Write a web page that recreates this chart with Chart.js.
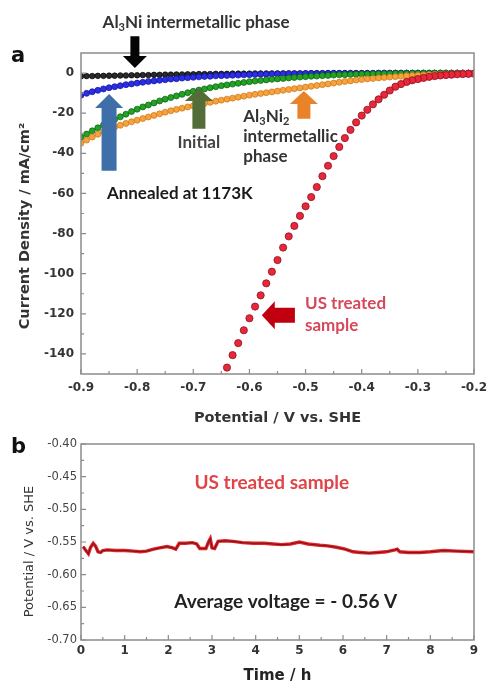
<!DOCTYPE html>
<html><head><meta charset="utf-8">
<script src="https://cdn.jsdelivr.net/npm/chart.js@4.4.0/dist/chart.umd.min.js"></script>
<style>
html,body{margin:0;padding:0;background:#fff;width:488px;height:685px;overflow:hidden;}
#wa{position:absolute;left:0;top:0;width:488px;height:430px;}
#wb{position:absolute;left:0;top:430px;width:488px;height:255px;}
</style></head><body>
<div id="wa"><canvas id="ca" width="488" height="430"></canvas></div>
<div id="wb"><canvas id="cb" width="488" height="255"></canvas></div>
<script>
// ---------- Panel a data ----------
const potentialSweep = [-0.90,-0.89,-0.88,-0.87,-0.86,-0.85,-0.84,-0.83,-0.82,-0.81,-0.80,-0.79,-0.78,-0.77,-0.76,-0.75,-0.74,-0.73,-0.72,-0.71,-0.70,
  -0.69,-0.68,-0.67,-0.66,-0.65,-0.64,-0.63,-0.62,-0.61,-0.60,-0.59,-0.58,-0.57,-0.56,-0.55,-0.54,-0.53,-0.52,-0.51,-0.50,
  -0.49,-0.48,-0.47,-0.46,-0.45,-0.44,-0.43,-0.42,-0.41,-0.40,-0.39,-0.38,-0.37,-0.36,-0.35,-0.34,-0.33,-0.32,-0.31,-0.30,
  -0.29,-0.28,-0.27,-0.26,-0.25,-0.24,-0.23,-0.22,-0.21,-0.20];
const currentAl3Ni = [-1.6,-1.5,-1.5,-1.4,-1.4,-1.3,-1.3,-1.2,-1.2,-1.1,-1.1,-1.0,-1.0,-0.9,-0.9,-0.8,-0.8,-0.7,-0.7,-0.6,-0.6,
  -0.5,-0.5,-0.5,-0.4,-0.4,-0.4,-0.3,-0.3,-0.3,-0.3,-0.2,-0.2,-0.2,-0.2,-0.2,-0.2,-0.2,-0.2,-0.2,-0.2,
  -0.1,-0.1,-0.1,-0.1,-0.1,-0.1,-0.1,-0.1,-0.1,-0.1,-0.1,-0.1,-0.1,-0.1,-0.1,0,0,0,0,0,
  0,0,0,0,0,0,0,0,0,0];
const currentAnnealed = [-11.0,-10.1,-9.3,-8.6,-7.9,-7.3,-6.8,-6.3,-5.8,-5.4,-5.0,-4.6,-4.2,-3.9,-3.6,-3.3,-3.0,-2.8,-2.5,-2.3,-2.1,
  -1.9,-1.7,-1.6,-1.4,-1.3,-1.2,-1.1,-1.0,-0.9,-0.8,-0.7,-0.6,-0.6,-0.5,-0.4,-0.4,-0.3,-0.3,-0.3,-0.2,
  -0.2,-0.2,-0.2,-0.1,-0.1,-0.1,-0.1,-0.1,-0.1,-0.1,-0.1,-0.1,0,0,0,0,0,0,0,0,
  0,0,0,0,0,0,0,0,0,0];
const currentInitial = [-32.0,-30.4,-28.8,-27.3,-25.9,-24.5,-23.1,-21.8,-20.5,-19.2,-18.0,-16.9,-15.9,-14.9,-13.9,-13.0,-12.2,-11.4,-10.6,-9.8,-9.1,
  -8.5,-7.9,-7.3,-6.8,-6.3,-5.9,-5.5,-5.1,-4.7,-4.3,-4.0,-3.7,-3.4,-3.1,-2.9,-2.7,-2.4,-2.2,-2.0,-1.8,
  -1.6,-1.5,-1.3,-1.2,-1.0,-0.9,-0.8,-0.7,-0.6,-0.5,-0.5,-0.4,-0.4,-0.3,-0.3,-0.2,-0.2,-0.2,-0.1,-0.1,
  -0.1,-0.1,0,0,0,0,0,0,0,0];
const currentAl3Ni2 = [-35.0,-33.4,-31.9,-30.5,-29.2,-28.0,-27.0,-26.0,-25.1,-24.3,-23.5,-22.7,-21.9,-21.1,-20.3,-19.5,-18.8,-18.1,-17.5,-16.9,-16.3,
  -15.7,-15.1,-14.6,-14.0,-13.5,-13.0,-12.5,-12.0,-11.5,-11.0,-10.6,-10.2,-9.8,-9.4,-9.0,-8.6,-8.2,-7.8,-7.4,-7.0,
  -6.6,-6.2,-5.8,-5.4,-5.0,-4.6,-4.2,-3.9,-3.5,-3.2,-2.9,-2.7,-2.4,-2.2,-2.0,-1.8,-1.6,-1.4,-1.2,-1.1,
  -1.0,-0.8,-0.7,-0.6,-0.5,-0.4,-0.3,-0.2,-0.1,0.0];
const potentialUS = [-0.20,-0.21,-0.22,-0.23,-0.24,-0.25,-0.26,-0.27,-0.28,-0.29,-0.30,-0.31,-0.32,-0.33,-0.34,-0.35,-0.36,-0.37,-0.38,-0.39,
  -0.40,-0.41,-0.42,-0.43,-0.44,-0.45,-0.46,-0.47,-0.48,-0.49,-0.50,-0.51,-0.52,-0.53,-0.54,-0.55,-0.56,-0.57,-0.58,-0.59,
  -0.60,-0.61,-0.62,-0.63,-0.64,-0.65];
const currentUS = [-0.3,-0.4,-0.5,-0.6,-0.8,-1.0,-1.2,-1.5,-1.9,-2.4,-3.0,-3.6,-4.4,-5.5,-6.8,-8.7,-10.8,-13.1,-15.6,-18.3,
  -21.2,-24.6,-28.3,-32.4,-36.8,-41.4,-46.2,-51.4,-56.8,-61.8,-66.4,-71.2,-76.2,-81.4,-87.0,-93.2,-99.0,-104.8,-110.8,-116.4,
  -122.2,-128.2,-134.6,-140.6,-146.8,-153.0];
const xTicksA = [-0.9,-0.8,-0.7,-0.6,-0.5,-0.4,-0.3,-0.2];
const yTicksA = [0,-20,-40,-60,-80,-100,-120,-140];

// ---------- Panel b data ----------
const timeH = [0.05,0.10,0.17,0.22,0.28,0.33,0.39,0.45,0.50,0.60,
  0.80,1.00,1.20,1.36,1.50,1.66,1.80,1.97,2.10,2.17,
  2.25,2.40,2.55,2.65,2.72,2.86,2.92,2.96,3.00,3.06,
  3.14,3.30,3.48,3.70,3.94,4.20,4.40,4.60,4.80,5.00,
  5.20,5.47,5.65,5.85,6.05,6.23,6.40,6.60,6.80,6.99,
  7.19,7.24,7.30,7.50,7.76,8.00,8.30,8.60,9.00];
const potentialUSTime = [-0.557,-0.562,-0.568,-0.558,-0.552,-0.556,-0.565,-0.566,-0.563,-0.562,
  -0.563,-0.563,-0.564,-0.565,-0.564,-0.561,-0.559,-0.557,-0.559,-0.561,
  -0.552,-0.552,-0.551,-0.553,-0.560,-0.560,-0.550,-0.545,-0.559,-0.560,
  -0.549,-0.548,-0.549,-0.551,-0.552,-0.552,-0.553,-0.554,-0.553,-0.550,
  -0.553,-0.555,-0.556,-0.558,-0.561,-0.565,-0.566,-0.567,-0.566,-0.565,
  -0.562,-0.561,-0.565,-0.566,-0.566,-0.565,-0.563,-0.564,-0.565];
const xTicksB = [0,1,2,3,4,5,6,7,8,9];
const yTicksB = [-0.70,-0.65,-0.60,-0.55,-0.50,-0.45,-0.40];

// ---------- helpers ----------
const pts = (xs, ys) => xs.map((x, i) => ({x, y: ys[i]}));

function drawRich(ctx, parts, x, y, font, size, color, align) {
  const subFont = font.replace(size + 'px', Math.round(size * 0.62) + 'px');
  let w = 0;
  parts.forEach(p => { ctx.font = p[1] ? subFont : font; w += ctx.measureText(p[0]).width; });
  let cx = align === 'center' ? x - w / 2 : x;
  ctx.fillStyle = color; ctx.textAlign = 'left'; ctx.textBaseline = 'middle';
  parts.forEach(p => {
    ctx.font = p[1] ? subFont : font;
    ctx.fillText(p[0], cx, p[1] ? y + size * 0.3 : y);
    cx += ctx.measureText(p[0]).width;
  });
}

function drawArrow(ctx, a, xs, ys) {
  const x1 = xs.getPixelForValue(a.from[0]), y1 = ys.getPixelForValue(a.from[1]);
  const x2 = xs.getPixelForValue(a.to[0]), y2 = ys.getPixelForValue(a.to[1]);
  const dx = x2 - x1, dy = y2 - y1, L = Math.hypot(dx, dy), ux = dx / L, uy = dy / L, nx = -uy, ny = ux;
  const bx = x2 - ux * a.head, by = y2 - uy * a.head;
  ctx.beginPath();
  ctx.moveTo(x1 + nx * a.stem, y1 + ny * a.stem);
  ctx.lineTo(bx + nx * a.stem, by + ny * a.stem);
  ctx.lineTo(bx + nx * a.hw, by + ny * a.hw);
  ctx.lineTo(x2, y2);
  ctx.lineTo(bx - nx * a.hw, by - ny * a.hw);
  ctx.lineTo(bx - nx * a.stem, by - ny * a.stem);
  ctx.lineTo(x1 - nx * a.stem, y1 - ny * a.stem);
  ctx.closePath();
  ctx.fillStyle = a.color; ctx.fill();
}

const deco = {
  id: 'deco',
  afterDatasetsDraw(chart, args, o) {
    const ctx = chart.ctx, ca = chart.chartArea, xs = chart.scales.x, ys = chart.scales.y;
    ctx.save();
    ctx.strokeStyle = '#8c8c8c'; ctx.lineWidth = 1.5;
    ctx.strokeRect(ca.left, ca.top, ca.right - ca.left, ca.bottom - ca.top);
    ctx.lineWidth = 1.2;
    const tickSet = (scale) => {
      const vals = scale.ticks.map(t => t.value).sort((a, b) => a - b);
      const step = vals[1] - vals[0];
      const minors = [];
      for (let i = -1; i < vals.length; i++) {
        const m = i < 0 ? vals[0] - step / 2 : vals[i] + step / 2;
        if (m > scale.min + 1e-9 && m < scale.max - 1e-9) minors.push(m);
      }
      return {vals, minors};
    };
    const tx = tickSet(xs), ty = tickSet(ys);
    ctx.beginPath();
    tx.vals.forEach(v => { const p = xs.getPixelForValue(v); ctx.moveTo(p, ca.bottom); ctx.lineTo(p, ca.bottom - 5); });
    tx.minors.forEach(v => { const p = xs.getPixelForValue(v); ctx.moveTo(p, ca.bottom); ctx.lineTo(p, ca.bottom - 3); });
    ty.vals.forEach(v => { const p = ys.getPixelForValue(v); ctx.moveTo(ca.left, p); ctx.lineTo(ca.left + 5, p); });
    ty.minors.forEach(v => { const p = ys.getPixelForValue(v); ctx.moveTo(ca.left, p); ctx.lineTo(ca.left + 3, p); });
    ctx.stroke();
    ctx.restore();
  },
  afterDraw(chart, args, o) {
    const ctx = chart.ctx, xs = chart.scales.x, ys = chart.scales.y;
    ctx.save();
    (o.arrows || []).forEach(a => drawArrow(ctx, a, xs, ys));
    (o.texts || []).forEach(t => {
      drawRich(ctx, t.parts, xs.getPixelForValue(t.at[0]), ys.getPixelForValue(t.at[1]), t.font, t.size, t.color, t.align);
    });
    // panel letter
    ctx.font = 'bold 21px "DejaVu Sans"'; ctx.fillStyle = '#111'; ctx.textAlign = 'left'; ctx.textBaseline = 'alphabetic';
    ctx.fillText(o.letter.text, o.letter.x, o.letter.y);
    // y title
    ctx.translate(o.ytitle.x, o.ytitle.y); ctx.rotate(-Math.PI / 2);
    ctx.font = o.ytitle.font; ctx.fillStyle = o.ytitle.color; ctx.textAlign = 'center'; ctx.textBaseline = 'middle';
    ctx.fillText(o.ytitle.text, 0, 0);
    ctx.restore();
  }
};

const annoFont = 'bold 17px Lato';

// ---------- Chart a ----------
new Chart(document.getElementById('ca'), {
  type: 'scatter',
  data: {
    datasets: [
      {label: 'US treated sample', data: pts(potentialUS, currentUS), pointRadius: 3.6,
       pointBackgroundColor: '#e8283a', pointBorderColor: '#8e1020', pointBorderWidth: 0.8},
      {label: 'Al3Ni2 intermetallic phase', data: pts(potentialSweep, currentAl3Ni2), pointRadius: 3,
       pointBackgroundColor: '#f7a23a', pointBorderColor: '#c77418', pointBorderWidth: 0.7},
      {label: 'Initial', data: pts(potentialSweep, currentInitial), pointRadius: 3,
       pointBackgroundColor: '#22a324', pointBorderColor: '#0c5a10', pointBorderWidth: 0.7},
      {label: 'Annealed at 1173K', data: pts(potentialSweep, currentAnnealed), pointRadius: 3,
       pointBackgroundColor: '#2a2ee8', pointBorderColor: '#10138a', pointBorderWidth: 0.7},
      {label: 'Al3Ni intermetallic phase', data: pts(potentialSweep, currentAl3Ni), pointRadius: 2.8,
       pointBackgroundColor: '#2a2a2a', pointBorderColor: '#000', pointBorderWidth: 0.7}
    ]
  },
  options: {
    responsive: false, animation: false,
    layout: {padding: {left: 0, right: 14, top: 53, bottom: 0}},
    plugins: {
      legend: {display: false}, tooltip: {enabled: false},
      deco: {
        letter: {text: 'a', x: 11, y: 62},
        ytitle: {text: 'Current Density / mA/cm²', x: 25, y: 226, font: 'bold 14.5px "DejaVu Sans"', color: '#333'},
        arrows: [
          {from: [-0.804, 18.4], to: [-0.804, 2.5], head: 12, hw: 12, stem: 4.5, color: '#050505'},
          {from: [-0.850, -48.7], to: [-0.850, -10.4], head: 14, hw: 14, stem: 7.5, color: '#3f6fa8'},
          {from: [-0.690, -27.8], to: [-0.690, -7.4], head: 13, hw: 14, stem: 6.5, color: '#536d39'},
          {from: [-0.503, -22.8], to: [-0.503, -8.9], head: 13, hw: 14, stem: 6.5, color: '#e8832a'},
          {from: [-0.519, -120.7], to: [-0.578, -120.7], head: 13, hw: 14, stem: 7.5, color: '#c0000f'}
        ],
        texts: [
          {at: [-0.695, 25.3], parts: [['Al'], ['3', 1], ['Ni intermetallic phase']], font: annoFont, size: 17, color: '#333', align: 'center'},
          {at: [-0.690, -34.8], parts: [['Initial']], font: annoFont, size: 17, color: '#444', align: 'center'},
          {at: [-0.611, -21.8], parts: [['Al'], ['3', 1], ['Ni'], ['2', 1]], font: annoFont, size: 17, color: '#333', align: 'left'},
          {at: [-0.611, -31.8], parts: [['intermetallic']], font: annoFont, size: 17, color: '#333', align: 'left'},
          {at: [-0.611, -41.7], parts: [['phase']], font: annoFont, size: 17, color: '#333', align: 'left'},
          {at: [-0.724, -60.1], parts: [['Annealed at 1173K']], font: annoFont, size: 17, color: '#1a1a1a', align: 'center'},
          {at: [-0.501, -114.7], parts: [['US treated']], font: annoFont, size: 17, color: '#d6485a', align: 'left'},
          {at: [-0.501, -125.6], parts: [['sample']], font: annoFont, size: 17, color: '#d6485a', align: 'left'}
        ]
      }
    },
    scales: {
      x: {
        type: 'linear', min: -0.9, max: -0.2,
        afterBuildTicks: s => { s.ticks = xTicksA.map(v => ({value: v})); },
        afterFit: s => { s.height = 56; s.paddingLeft = 0; s.paddingRight = 0; },
        grid: {display: false, drawTicks: false}, border: {display: false},
        ticks: {font: {family: 'DejaVu Sans', weight: 'bold', size: 12}, color: '#333', padding: 7,
                maxRotation: 0, autoSkip: false, callback: v => v.toFixed(1)},
        title: {display: true, text: 'Potential / V vs. SHE', color: '#333',
                font: {family: 'DejaVu Sans', weight: 'bold', size: 14.5}, padding: {top: 0, bottom: 3}}
      },
      y: {
        type: 'linear', min: -150, max: 10,
        afterBuildTicks: s => { s.ticks = yTicksA.map(v => ({value: v})); },
        afterFit: s => { s.width = 81; s.paddingTop = 0; s.paddingBottom = 0; },
        grid: {display: false, drawTicks: false}, border: {display: false},
        ticks: {font: {family: 'DejaVu Sans', weight: 'bold', size: 12}, color: '#333', padding: 7,
                autoSkip: false, callback: v => String(v)}
      }
    }
  },
  plugins: [deco]
});

// ---------- Chart b ----------
new Chart(document.getElementById('cb'), {
  type: 'scatter',
  data: {
    datasets: [
      {label: 'US treated sample (core)', data: pts(timeH, potentialUSTime), showLine: true, pointRadius: 0,
       borderColor: '#7e1414', borderWidth: 1.1, tension: 0},
      {label: 'US treated sample', data: pts(timeH, potentialUSTime), showLine: true, pointRadius: 0,
       borderColor: '#e3242b', borderWidth: 3.4, tension: 0}
    ]
  },
  options: {
    responsive: false, animation: false,
    layout: {padding: {left: 0, right: 14, top: 14, bottom: 0}},
    plugins: {
      legend: {display: false}, tooltip: {enabled: false},
      deco: {
        letter: {text: 'b', x: 11, y: 23},
        ytitle: {text: 'Potential / V vs. SHE', x: 30, y: 121.5, font: '13px "DejaVu Sans"', color: '#333'},
        arrows: [],
        texts: [
          {at: [4.37, -0.4597], parts: [['US treated sample']], font: 'bold 19px Lato', size: 19, color: '#e04448', align: 'center'},
          {at: [4.69, -0.6418], parts: [['Average voltage = - 0.56 V']], font: 'bold 19px Lato', size: 19, color: '#222', align: 'center'}
        ]
      }
    },
    scales: {
      x: {
        type: 'linear', min: 0, max: 9,
        afterBuildTicks: s => { s.ticks = xTicksB.map(v => ({value: v})); },
        afterFit: s => { s.height = 45; s.paddingLeft = 0; s.paddingRight = 0; },
        grid: {display: false, drawTicks: false}, border: {display: false},
        ticks: {font: {family: 'DejaVu Sans', weight: 'bold', size: 12}, color: '#333', padding: 4,
                maxRotation: 0, autoSkip: false, callback: v => String(v)},
        title: {display: true, text: 'Time / h', color: '#222',
                font: {family: 'DejaVu Sans', weight: 'bold', size: 15}, padding: {top: 0, bottom: 0}}
      },
      y: {
        type: 'linear', min: -0.70, max: -0.40,
        afterBuildTicks: s => { s.ticks = yTicksB.map(v => ({value: v})); },
        afterFit: s => { s.width = 81; s.paddingTop = 0; s.paddingBottom = 0; },
        grid: {display: false, drawTicks: false}, border: {display: false},
        ticks: {font: {family: 'DejaVu Sans', size: 11.5}, color: '#444', padding: 4,
                autoSkip: false, callback: v => v.toFixed(2)}
      }
    }
  },
  plugins: [deco]
});
</script>
</body></html>
